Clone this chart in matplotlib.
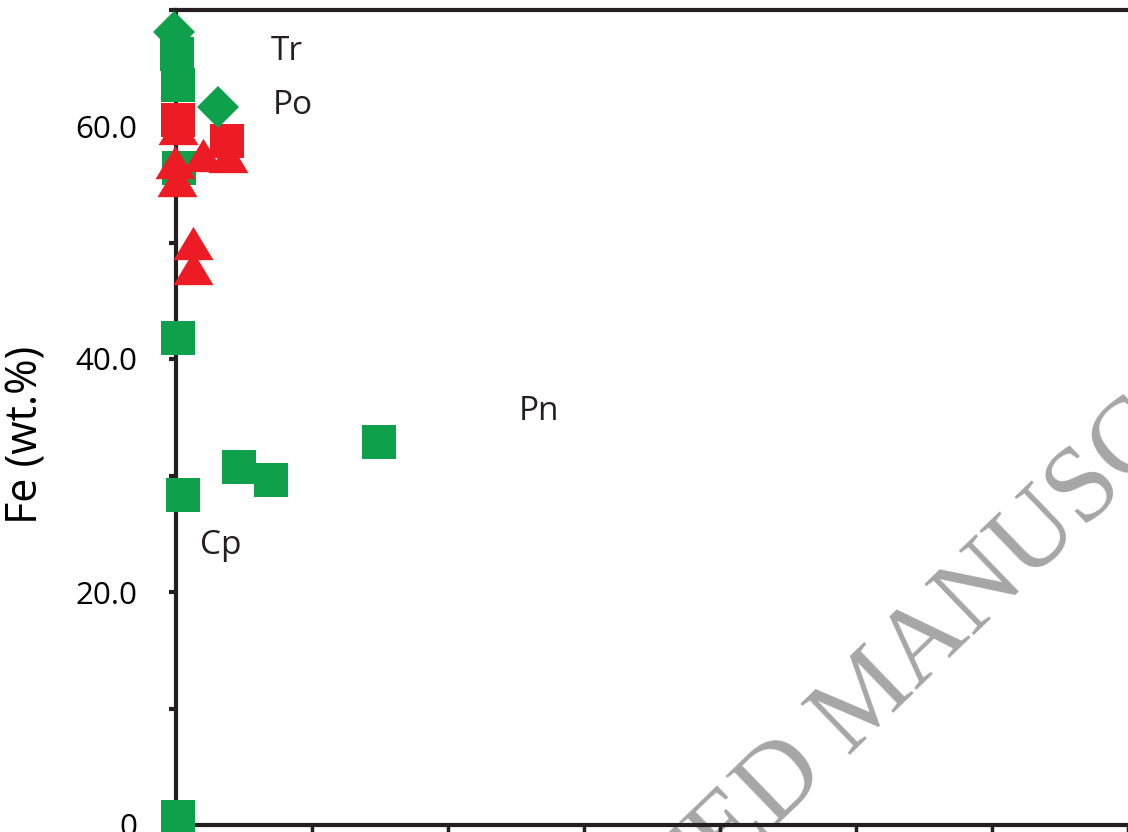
import matplotlib
matplotlib.use("Agg")
import matplotlib.pyplot as plt

# Fe (wt.%) vs. x for the sulfide phases
green_sq_x = [0.1, 0.15, 0.2, 0.15, 0.5, 4.6, 7.0, 14.9, 0.15]
green_sq_y = [66.2, 63.5, 56.4, 41.8, 28.3, 30.7, 29.6, 32.9, 0.7]

green_dm_x = [-0.15, 3.1]
green_dm_y = [68.1, 61.6]

red_sq_x = [0.15, 3.75]
red_sq_y = [60.5, 58.7]

red_tri_x = [0.15, 2.0, 3.8, -0.05, 0.05, 1.25, 1.25]
red_tri_y = [59.8, 57.5, 57.4, 56.9, 55.4, 50.0, 47.8]

labels = ["Tr", "Po", "Pn", "Cp"]
label_x = [7.0, 7.1, 25.2, 1.76]
label_y = [65.7, 61.0, 34.8, 23.3]

y_ticks = [0, 20, 40, 60]
y_ticklabels = ["0", "20.0", "40.0", "60.0"]
y_minor = [10, 30, 50, 70]

green = "#0fa04b"
red = "#ed1c24"
ink = "#231f20"

plt.rcParams["font.family"] = ["Open Sans", "DejaVu Sans"]

W, H = 1128, 832
fig = plt.figure(figsize=(W / 100, H / 100), dpi=100)
fig.patch.set_facecolor("white")

# axes runs off the right edge, like the cropped original
ax = fig.add_axes([176 / W, 7 / H, 1088 / W, 815.5 / H])
ax.patch.set_visible(False)
ax.set_xlim(0, 80)
ax.set_ylim(0, 70)

tri = [(0, 1), (-1.2, -1), (1.2, -1)]
ax.plot(green_sq_x, green_sq_y, ls="none", marker="s", ms=23.8, mew=0,
        color=green, clip_on=False, zorder=3)
ax.plot(red_sq_x, red_sq_y, ls="none", marker="s", ms=23.8, mew=0,
        color=red, clip_on=False, zorder=4)
ax.plot(red_tri_x, red_tri_y, ls="none", marker=tri, ms=28.8, mew=0,
        color=red, clip_on=False, zorder=4)
ax.plot(green_dm_x, green_dm_y, ls="none", marker="D", ms=21.4, mew=0,
        color=green, clip_on=False, zorder=5)

for t, x, y in zip(labels, label_x, label_y):
    ax.text(x, y, t, fontsize=24, color=ink, ha="left", va="baseline")

for s in ["left", "bottom", "top"]:
    ax.spines[s].set_linewidth(3)
    ax.spines[s].set_color(ink)
ax.spines["right"].set_visible(False)

ax.set_yticks(y_ticks)
ax.set_yticklabels(y_ticklabels)
ax.set_yticks(y_minor, minor=True)
ax.tick_params(axis="y", which="both", direction="out", length=5, width=3,
               color=ink, labelsize=22.5, pad=23, labelcolor="black")
ax.set_xticks(range(0, 90, 10))
ax.set_xticklabels([])
ax.tick_params(axis="x", direction="out", length=12, width=2.5, color=ink)

fig.text(26 / W, 1 - 435 / H, "Fe (wt.%)", rotation=90, fontsize=31,
         ha="center", va="center", color="black")

# journal watermark
fig.text(888 / W, 1 - 718 / H, "ACCEPTED MANUSCRIPT", rotation=44,
         rotation_mode="anchor", ha="center", va="baseline", fontsize=77,
         family="Liberation Serif", color="#a6a6a6", zorder=-1)

fig.savefig("out.png", dpi=100)
